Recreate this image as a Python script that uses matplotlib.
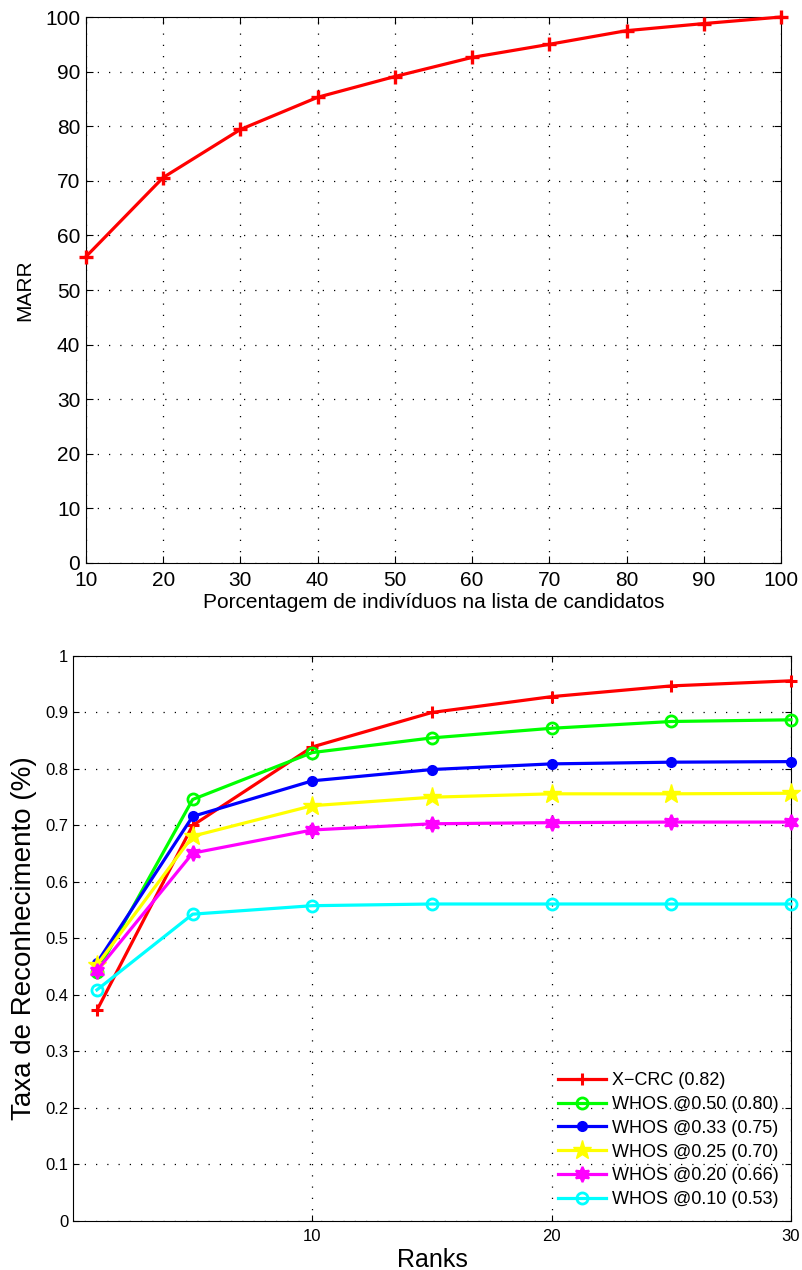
import matplotlib
matplotlib.use("Agg")
import matplotlib.pyplot as plt

plt.rcParams['font.family'] = ['Liberation Sans', 'DejaVu Sans']

# top panel: MARR vs percentage of candidates
pct = [10, 20, 30, 40, 50, 60, 70, 80, 90, 100]
marr = [56.1, 70.6, 79.4, 85.3, 89.1, 92.6, 95.0, 97.5, 98.8, 100.0]

# bottom panel: recognition rate vs ranks
ranks = [1, 5, 10, 15, 20, 25, 30]
xcrc = [0.373, 0.700, 0.839, 0.900, 0.928, 0.947, 0.956]
whos50 = [0.441, 0.746, 0.829, 0.855, 0.872, 0.884, 0.887]
whos33 = [0.457, 0.716, 0.779, 0.799, 0.809, 0.812, 0.813]
whos25 = [0.453, 0.681, 0.735, 0.750, 0.756, 0.756, 0.757]
whos20 = [0.443, 0.651, 0.692, 0.703, 0.705, 0.706, 0.706]
whos10 = [0.409, 0.543, 0.558, 0.561, 0.561, 0.561, 0.561]
labels = ["X\u2212CRC (0.82)", "WHOS @0.50 (0.80)", "WHOS @0.33 (0.75)",
          "WHOS @0.25 (0.70)", "WHOS @0.20 (0.66)", "WHOS @0.10 (0.53)"]

grid_ls = (0, (1, 8))

fig = plt.figure(figsize=(8.03, 12.7), dpi=100)

# ---- top ----
ax1 = fig.add_axes([0.107, 0.5567, 0.8656, 0.4299])
ax1.plot(pct, marr, color="#ff0000", lw=2.3, marker="+", ms=10, mew=2.4, clip_on=False, zorder=5)
ax1.set_xlim(10, 100); ax1.set_ylim(0, 100)
ax1.set_xticks(range(10, 101, 10)); ax1.set_yticks(range(0, 101, 10))
ax1.grid(True, ls=grid_ls, color="black", lw=0.9)
ax1.tick_params(direction="in", top=True, right=True, labelsize=15, length=5)
ax1.tick_params(axis="x", pad=6)
ax1.tick_params(axis="y", pad=4)
ax1.set_xlabel("Porcentagem de indivíduos na lista de candidatos", fontsize=15, labelpad=2)
ax1.set_ylabel("MARR", fontsize=15, labelpad=8)

# ---- bottom ----
ax2 = fig.add_axes([0.0909, 0.0386, 0.8941, 0.4449])
series = [
    (xcrc, "#ff0000", "+", 9, "full", 2.2),
    (whos50, "#00ff00", "o", 8, "none", 2.0),
    (whos33, "#0000ff", "o", 6.5, "full", 1.5),
    (whos25, "#ffff00", "*", 14, "full", 1.0),
    (whos20, "#ff00ff", (6, 1, 0), 11, "full", 1.5),
    (whos10, "#00ffff", "o", 8, "none", 2.0),
]
for (vals, c, m, ms, fill, mew), lab in zip(series, labels):
    ax2.plot(ranks, vals, color=c, lw=2.3, marker=m, ms=ms, mew=mew,
             fillstyle=fill, label=lab, clip_on=False, zorder=5)
ax2.set_xlim(0, 30); ax2.set_ylim(0, 1)
ax2.set_xticks([10, 20, 30])
ax2.set_yticks([i / 10 for i in range(11)])
ax2.set_yticklabels(["0"] + [f"{i/10:.1f}" for i in range(1, 10)] + ["1"])
ax2.grid(True, ls=grid_ls, color="black", lw=0.9)
ax2.tick_params(direction="in", top=True, right=True, labelsize=12, length=4)
ax2.tick_params(axis="x", pad=6)
ax2.tick_params(axis="y", pad=3.5)
ax2.set_xlabel("Ranks", fontsize=18, labelpad=3)
ax2.set_ylabel("Taxa de Reconhecimento (%)", fontsize=20, labelpad=6)
leg = ax2.legend(loc="lower right", frameon=False, fontsize=13, handlelength=2.65,
                 handletextpad=0.3, labelspacing=0.38, borderaxespad=0.3)

fig.savefig("out.png", dpi=100)
